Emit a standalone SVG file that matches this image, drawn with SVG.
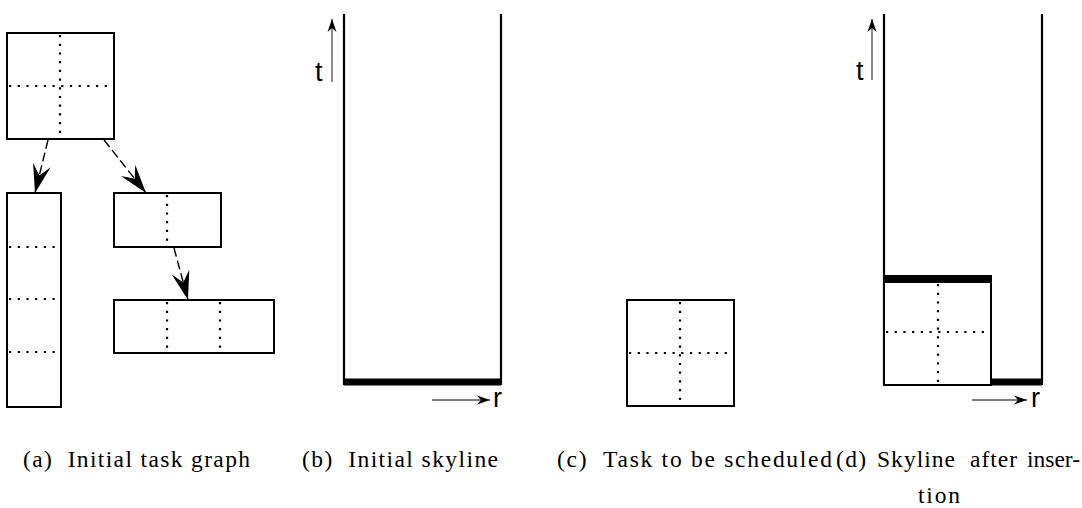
<svg xmlns="http://www.w3.org/2000/svg" width="1082" height="508" viewBox="0 0 1082 508">
<style>
.box{fill:#fff;stroke:#000;stroke-width:2}
.dot{fill:none;stroke:#000;stroke-width:2.2;stroke-dasharray:2.2 6.5}
.edge{fill:none;stroke:#000;stroke-width:1.4;stroke-dasharray:9 4}
.wall{fill:none;stroke:#000;stroke-width:2.2}
.bar{fill:#000}
.axis{fill:none;stroke:#666;stroke-width:1.5}
.raxis{fill:none;stroke:#000;stroke-width:1}
.lbl{font-family:"Liberation Sans",Arial,sans-serif;font-size:27px;fill:#000}
.cap{font-size:23.5px;fill:#000;white-space:pre}
</style>
<defs>
<marker id="big" markerUnits="userSpaceOnUse" markerWidth="32" markerHeight="22" viewBox="-28 -10 30 20" refX="0" refY="0" orient="auto">
<path d="M0,0 L-27,-8.5 L-17,0 L-27,8.5 Z" fill="#000"/>
</marker>
<marker id="small" markerUnits="userSpaceOnUse" markerWidth="16" markerHeight="12" viewBox="-14 -6 16 12" refX="0" refY="0" orient="auto">
<path d="M0,0 L-13,-4.5 L-9,0 L-13,4.5 Z" fill="#000"/>
</marker>
</defs>

<g id="task-top">
<rect class="box" x="7" y="33" width="107" height="106"/>
<line class="dot" x1="60" y1="35" x2="60" y2="138"/>
<line class="dot" x1="9" y1="86" x2="113" y2="86"/>
</g>
<g id="task-tall">
<rect class="box" x="7" y="193" width="54" height="214"/>
<line class="dot" x1="9" y1="247" x2="60" y2="247"/>
<line class="dot" x1="9" y1="299" x2="60" y2="299"/>
<line class="dot" x1="9" y1="352" x2="60" y2="352"/>
</g>
<g id="task-mid">
<rect class="box" x="114" y="193" width="107" height="54"/>
<line class="dot" x1="167" y1="195" x2="167" y2="246"/>
</g>
<g id="task-wide">
<rect class="box" x="114" y="300" width="160" height="53"/>
<line class="dot" x1="167" y1="302" x2="167" y2="352"/>
<line class="dot" x1="220" y1="302" x2="220" y2="352"/>
</g>

<g id="connectors">
<line class="edge" x1="48" y1="140" x2="35" y2="193" marker-end="url(#big)"/>
<line class="edge" x1="104" y1="140" x2="146" y2="193" marker-end="url(#big)"/>
<line class="edge" x1="174" y1="248" x2="188" y2="300" marker-end="url(#big)"/>
</g>

<g id="skyline-initial">
<path class="wall" d="M344,14 V385 M501,14 V385"/>
<rect class="bar" x="344" y="378.5" width="157" height="7"/>
<line class="axis" x1="332" y1="82" x2="332" y2="19" marker-end="url(#small)"/>
<text class="lbl" x="315" y="81">t</text>
<line class="raxis" x1="432" y1="400" x2="490" y2="400" marker-end="url(#small)"/>
<text class="lbl" x="493" y="407">r</text>
</g>

<g id="task-to-schedule">
<rect class="box" x="627" y="300" width="107" height="106"/>
<line class="dot" x1="680" y1="302" x2="680" y2="405"/>
<line class="dot" x1="629" y1="353" x2="733" y2="353"/>
</g>

<g id="skyline-after">
<path class="wall" d="M884,14 V385 M1042,14 V385"/>
<rect class="box" x="884" y="282" width="107" height="103"/>
<line class="dot" x1="938" y1="284" x2="938" y2="384"/>
<line class="dot" x1="886" y1="332" x2="990" y2="332"/>
<rect class="bar" x="884" y="275" width="108" height="7"/>
<rect class="bar" x="991" y="378.5" width="51" height="7"/>
<line class="axis" x1="872" y1="80" x2="872" y2="19" marker-end="url(#small)"/>
<text class="lbl" x="856" y="80">t</text>
<line class="raxis" x1="972" y1="400" x2="1027" y2="400" marker-end="url(#small)"/>
<text class="lbl" x="1031" y="407">r</text>
</g>

<g id="captions" font-family="'Liberation Serif', 'DejaVu Serif', 'Times New Roman', serif">
<text class="cap" x="23" y="467" textLength="227" lengthAdjust="spacing">(a)  Initial task graph</text>
<text class="cap" x="302" y="467" textLength="196" lengthAdjust="spacing">(b)  Initial skyline</text>
<text class="cap" x="557" y="467" textLength="275" lengthAdjust="spacing">(c)  Task to be scheduled</text>
<text class="cap" x="836" y="467" textLength="30" lengthAdjust="spacing">(d)</text>
<text class="cap" x="877" y="467" textLength="78" lengthAdjust="spacing">Skyline</text>
<text class="cap" x="970" y="467" textLength="47" lengthAdjust="spacing">after</text>
<text class="cap" x="1027" y="467" textLength="53" lengthAdjust="spacing">inser-</text>
<text class="cap" x="918" y="503" textLength="42" lengthAdjust="spacing">tion</text>
</g>
</svg>
